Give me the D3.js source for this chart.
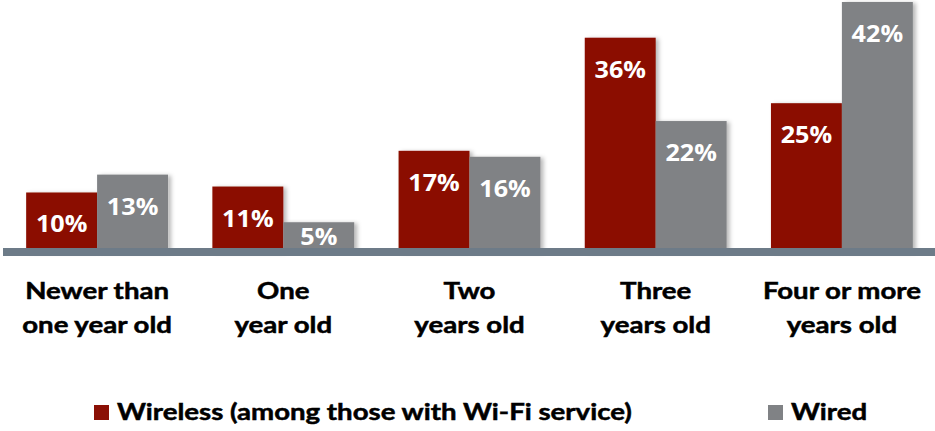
<!DOCTYPE html>
<html>
<head>
<meta charset="utf-8">
<script src="https://cdn.jsdelivr.net/npm/d3@7"></script>
<style>
  html, body { margin: 0; padding: 0; background: #ffffff; }
  svg { display: block; }
</style>
</head>
<body>
<svg id="chart" width="935" height="431"></svg>
<script>
const categories = [
  ["Newer than", "one year old"],
  ["One", "year old"],
  ["Two", "years old"],
  ["Three", "years old"],
  ["Four or more", "years old"]
];
const seriesNames = ["Wireless (among those with Wi-Fi service)", "Wired"];
const wireless = [10, 11, 17, 36, 25];
const wired = [13, 5, 16, 22, 42];
const colors = ["#8B1005", "#808285"];

const W = 935, H = 431;
const SX = 1.2; // horizontal stretch of the text glyphs in the reference
const svg = d3.select("#chart");

const defs = svg.append("defs");
const f = defs.append("filter").attr("id", "shadow")
  .attr("x", "-10%").attr("y", "-10%").attr("width", "130%").attr("height", "120%");
f.append("feDropShadow").attr("dx", 3).attr("dy", 1).attr("stdDeviation", 2)
  .attr("flood-color", "#000").attr("flood-opacity", 0.28);

const x0 = d3.scaleBand().domain(d3.range(categories.length))
  .range([4, 935]).paddingInner(0.238).paddingOuter(0.119);
const x1 = d3.scaleBand().domain([0, 1]).range([0, x0.bandwidth()]);
const y = d3.scaleLinear().domain([0, 42]).range([252, 2]);

const data = categories.map((c, i) => ({ i, vals: [wireless[i], wired[i]] }));

const groups = svg.append("g").selectAll("g").data(data).join("g")
  .attr("transform", d => `translate(${x0(d.i)},0)`);

groups.selectAll("rect").data(d => d.vals.map((v, s) => ({ v, s }))).join("rect")
  .attr("x", d => x1(d.s))
  .attr("y", d => y(d.v))
  .attr("width", x1.bandwidth())
  .attr("height", d => y(0) - y(d.v))
  .attr("fill", d => colors[d.s])
  .attr("filter", "url(#shadow)");

groups.selectAll("text.val").data(d => d.vals.map((v, s) => ({ v, s }))).join("text")
  .attr("class", "val")
  .attr("transform", d => `translate(${x1(d.s) + x1.bandwidth() / 2},${Math.min(y(d.v) + 40, y(0) - 7)}) scale(1.05,1)`)
  .attr("text-anchor", "middle")
  .attr("font-family", "'Open Sans', sans-serif")
  .attr("font-weight", "bold")
  .attr("font-size", 24)
  .attr("fill", "#ffffff")
  .text(d => d.v + "%");

// baseline axis
svg.append("rect")
  .attr("x", 3).attr("y", 248).attr("width", W - 3).attr("height", 8)
  .attr("fill", "#6D7B88");

// category labels
const xAxis = svg.append("g");
data.forEach(d => {
  const cx = x0(d.i) + x0.bandwidth() / 2;
  categories[d.i].forEach((line, k) => {
    xAxis.append("text")
      .attr("transform", `translate(${cx},${299 + k * 34}) scale(${SX},1)`)
      .attr("text-anchor", "middle")
      .attr("font-family", "Lato, 'Open Sans', sans-serif")
      .attr("font-weight", "bold")
      .attr("font-size", 23)
      .attr("fill", "#000")
      .attr("stroke", "#000")
      .attr("stroke-width", 0.5)
      .text(line);
  });
});

// legend
const legendX = [94, 768];
const leg = svg.append("g");
seriesNames.forEach((name, s) => {
  leg.append("rect").attr("x", legendX[s]).attr("y", 405).attr("width", 15).attr("height", 15)
    .attr("fill", colors[s]);
  leg.append("text")
    .attr("transform", `translate(${legendX[s] + 23},420) scale(${SX},1)`)
    .attr("font-family", "Lato, 'Open Sans', sans-serif")
    .attr("font-weight", "bold")
    .attr("font-size", 23)
    .attr("fill", "#000")
    .attr("stroke", "#000")
    .attr("stroke-width", 0.5)
    .text(name);
});
</script>
</body>
</html>
